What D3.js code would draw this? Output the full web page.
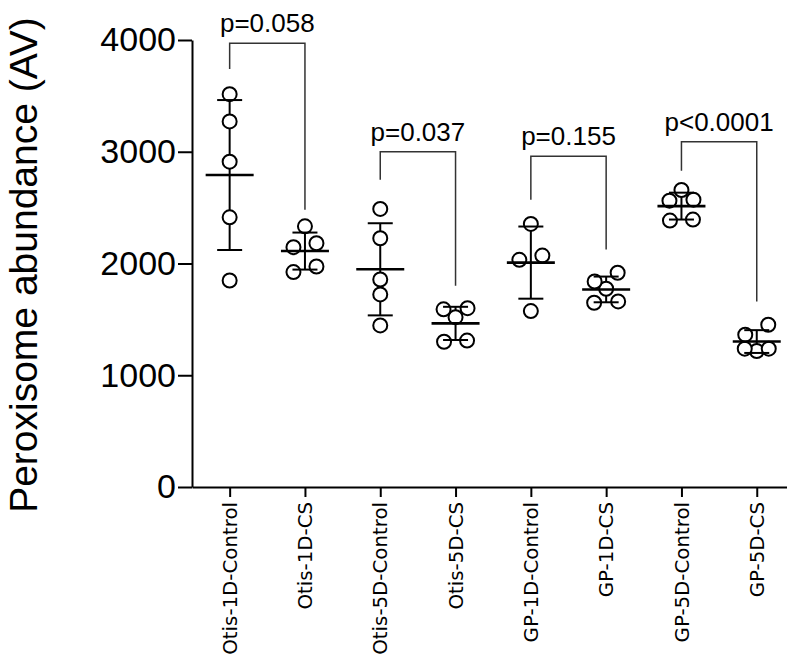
<!DOCTYPE html>
<html>
<head>
<meta charset="utf-8">
<script src="https://cdn.jsdelivr.net/npm/d3@7"></script>
<style>
  body { margin: 0; background: #fff; }
  svg { display: block; }
</style>
</head>
<body>
<svg id="chart" width="787" height="665"></svg>
<script>
// groups along the x axis
var groups = ["Otis-1D-Control", "Otis-1D-CS", "Otis-5D-Control", "Otis-5D-CS",
              "GP-1D-Control", "GP-1D-CS", "GP-5D-Control", "GP-5D-CS"];

// individual values for each group (AV)
var otis1dControl = [3515, 3271, 2911, 2413, 1848];
var otis1dCS      = [2333, 2181, 2146, 1923, 1973];
var otis5dControl = [2488, 2226, 1857, 1723, 1446];
var otis5dCS      = [1590, 1600, 1520, 1300, 1310];
var gp1dControl   = [2354, 2071, 2033, 1574];
var gp1dCS        = [1917, 1839, 1774, 1649, 1661];
var gp5dControl   = [2658, 2562, 2571, 2384, 2393];
var gp5dCS        = [1452, 1363, 1238, 1217, 1238];

var yTicks = [0, 1000, 2000, 3000, 4000];

// comparisons
var pairs     = [[0, 1], [2, 3], [4, 5], [6, 7]];
var pLabels   = ["p=0.058", "p=0.037", "p=0.155", "p<0.0001"];
var bracketTop = [3970, 3000, 2960, 3090];
var legLeft    = [3740, 2750, 2570, 2830];
var legRight   = [2480, 1800, 2125, 1660];

var series = [otis1dControl, otis1dCS, otis5dControl, otis5dCS,
              gp1dControl, gp1dCS, gp5dControl, gp5dCS];

var svg = d3.select("#chart");
var axisX = 192, yTop = 40, yBottom = 487;

var y = d3.scaleLinear().domain([0, 4000]).range([yBottom, yTop]);
var x = d3.scalePoint().domain(groups).range([axisX, axisX + 8 * 75.3]).padding(0.5);

var sans = "'Liberation Sans', Arial, sans-serif";

// y axis
var yAxis = svg.append("g")
    .attr("transform", "translate(" + axisX + ",0)")
    .call(d3.axisLeft(y).tickValues(yTicks).tickSize(14).tickSizeOuter(0).tickPadding(2)
        .tickFormat(d3.format("d")));
yAxis.selectAll("path, line").attr("stroke", "#000").attr("stroke-width", 2);
yAxis.selectAll("text").attr("font-family", sans).attr("font-size", 34).attr("fill", "#000");

// x axis
var xAxis = svg.append("g")
    .attr("transform", "translate(0," + yBottom + ")")
    .call(d3.axisBottom(x).tickSize(10).tickSizeOuter(0).tickFormat(""));
xAxis.selectAll("path, line").attr("stroke", "#000").attr("stroke-width", 2);

svg.append("g").selectAll("text").data(groups).enter().append("text")
    .attr("transform", function(d) { return "translate(" + x(d) + ",502) rotate(-90)"; })
    .attr("dy", "0.36em")
    .attr("text-anchor", "end")
    .attr("font-family", "'DejaVu Sans', Verdana, sans-serif")
    .attr("font-size", 19.8)
    .text(function(d) { return d; });

// y title
svg.append("text")
    .attr("transform", "translate(37,265) rotate(-90)")
    .attr("text-anchor", "middle")
    .attr("font-family", sans)
    .attr("font-size", 39)
    .text("Peroxisome abundance (AV)");

// scatter layout: points close in value share a row and spread sideways
function layout(vals) {
  var pts = vals.map(function(v) { return { v: v, py: y(v), dx: 0 }; })
      .sort(function(a, b) { return a.v - b.v; });
  var rows = [], cur = null;
  pts.forEach(function(p) {
    if (cur && Math.abs(cur[0].py - p.py) < 14) cur.push(p);
    else { cur = [p]; rows.push(cur); }
  });
  rows.forEach(function(r) {
    if (r.length === 2) { r[0].dx = -11.5; r[1].dx = 11.5; }
    else if (r.length === 3) {
      var m = d3.mean(r, function(p) { return p.v; });
      var out = r.slice().sort(function(a, b) { return Math.abs(b.v - m) - Math.abs(a.v - m); })[0];
      var rest = r.filter(function(p) { return p !== out; });
      out.dx = 0; rest[0].dx = -12; rest[1].dx = 12;
    }
  });
  return pts;
}

var g = svg.append("g");
series.forEach(function(vals, i) {
  var cx = x(groups[i]);
  var m = d3.mean(vals), sd = d3.deviation(vals);

  g.append("line")
      .attr("x1", cx).attr("x2", cx)
      .attr("y1", y(m + sd)).attr("y2", y(m - sd))
      .attr("stroke", "#000").attr("stroke-width", 2);

  g.selectAll(".pt" + i).data(layout(vals)).enter().append("circle")
      .attr("cx", function(p) { return cx + p.dx; })
      .attr("cy", function(p) { return p.py; })
      .attr("r", 7)
      .attr("fill", "#fff")
      .attr("stroke", "#000")
      .attr("stroke-width", 2);

  [m + sd, m - sd].forEach(function(v) {
    g.append("line")
        .attr("x1", cx - 12.5).attr("x2", cx + 12.5)
        .attr("y1", y(v)).attr("y2", y(v))
        .attr("stroke", "#000").attr("stroke-width", 2);
  });
  g.append("line")
      .attr("x1", cx - 24).attr("x2", cx + 24)
      .attr("y1", y(m)).attr("y2", y(m))
      .attr("stroke", "#000").attr("stroke-width", 2.6);
});

// significance brackets
var b = svg.append("g");
pairs.forEach(function(pr, i) {
  var x1 = x(groups[pr[0]]), x2 = x(groups[pr[1]]);
  var top = y(bracketTop[i]);
  b.append("path")
      .attr("d", "M" + x1 + "," + y(legLeft[i]) + "V" + top + "H" + x2 + "V" + y(legRight[i]))
      .attr("fill", "none")
      .attr("stroke", "#333")
      .attr("stroke-width", 1.5);
  b.append("text")
      .attr("x", (x1 + x2) / 2)
      .attr("y", top - 11)
      .attr("text-anchor", "middle")
      .attr("font-family", sans)
      .attr("font-size", 26)
      .text(pLabels[i]);
});
</script>
</body>
</html>
